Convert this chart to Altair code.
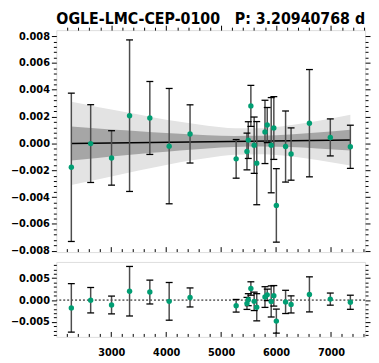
import altair as alt
import pandas as pd

# ---------------- data ----------------
title_left = "OGLE-LMC-CEP-0100"
title_right = "P: 3.20940768 d"

obs_x = [2273, 2625, 3005, 3333, 3702, 4054, 4434, 5273, 5470, 5494, 5541, 5601,
         5648, 5798, 5839, 5911, 5959, 6005, 6173, 6273, 6607, 6987, 7352]
obs_y = [-0.00178, -0.00001, -0.00108, 0.00207, 0.00190, -0.00020, 0.00071,
         -0.00115, -0.00060, 0.00025, 0.00280, -0.00013, -0.00147, 0.00086,
         0.00137, -0.00013, 0.00115, -0.00462, -0.00023, -0.00079, 0.00151,
         0.00045, -0.00025]
obs_err = [0.00553, 0.00290, 0.00203, 0.00565, 0.00272, 0.00430, 0.00217,
           0.00144, 0.00137, 0.00137, 0.00153, 0.00210, 0.00310, 0.00236,
           0.00131, 0.00355, 0.00234, 0.00274, 0.00265, 0.00195, 0.00400,
           0.00138, 0.00161]
resid = [-0.00178, -0.00003, -0.00112, 0.00202, 0.00183, -0.00029, 0.00060,
         -0.00130, -0.00076, 0.00009, 0.00264, -0.00029, -0.00164, 0.00069,
         0.00119, -0.00031, 0.00097, -0.00480, -0.00042, -0.00099, 0.00130,
         0.00022, -0.00050]

fit_x = [2273, 7352]
fit_y = [0.00000, 0.00025]

band_x = [2273, 2750, 3250, 3750, 4250, 4750, 5250, 5750, 6250, 6750, 7352]
dark_lo = [-0.00127, -0.00108, -0.00088, -0.00070, -0.00052, -0.00037,
           -0.00026, -0.00023, -0.00027, -0.00037, -0.00052]
dark_hi = [0.00127, 0.00112, 0.00098, 0.00084, 0.00072, 0.00061,
           0.00056, 0.00057, 0.00067, 0.00081, 0.00102]
light_lo = [-0.00310, -0.00268, -0.00224, -0.00182, -0.00141, -0.00108,
            -0.00084, -0.00080, -0.00095, -0.00123, -0.00164]
light_hi = [0.00310, 0.00272, 0.00234, 0.00196, 0.00161, 0.00132,
            0.00114, 0.00114, 0.00135, 0.00167, 0.00214]

x_major = [3000, 4000, 5000, 6000, 7000]
x_minor = [2200, 2400, 2600, 2800, 3200, 3400, 3600, 3800, 4200, 4400, 4600,
           4800, 5200, 5400, 5600, 5800, 6200, 6400, 6600, 6800, 7200, 7400, 7600]
y1_ticks = [round(-0.008 + 0.0004 * i, 4) for i in range(41)]
y2_ticks = [round(-0.008 + 0.001 * i, 3) for i in range(17)]

# ---------------- tables ----------------
obs = pd.DataFrame({"x": obs_x, "y": obs_y, "err": obs_err, "r": resid})
band = pd.DataFrame({"bx": band_x, "dlo": dark_lo, "dhi": dark_hi,
                     "llo": light_lo, "lhi": light_hi})
fit = pd.DataFrame({"fx": fit_x, "fy": fit_y})
xmaj = pd.DataFrame({"v": x_major})
xmin_ = pd.DataFrame({"v": x_minor})
zero = pd.DataFrame({"z": [0.0]})
tl = pd.DataFrame({"t": [title_left]})
tr = pd.DataFrame({"t": [title_right]})

W, H1, H2 = 313, 225, 76
FONT = "DejaVu Sans Condensed, DejaVu Sans"
GREEN = "#009e73"

xscale = alt.Scale(domain=[2000, 7620], nice=False, zero=False)
y1scale = alt.Scale(domain=[-0.0081, 0.00845], nice=False, zero=False)
y2scale = alt.Scale(domain=[-0.0084, 0.0087], nice=False, zero=False)

t1 = "abs(datum.value*500 - round(datum.value*500)) < 0.001"
t2 = "abs(datum.value*200 - round(datum.value*200)) < 0.001"
tx = "datum.value % 1000 == 0"


def yaxis(values, test, orient, labels):
    return alt.Axis(values=values, orient=orient, labels=labels, format=".3f",
                    labelExpr=f"{test} ? datum.label : ''",
                    tickSize={"condition": {"test": test, "value": 5}, "value": 3},
                    tickColor="black", tickWidth=1, domain=False, grid=False,
                    title=None, labelOverlap=False, labelPadding=2,
                    labelFont=FONT, labelFontWeight="bold", labelFontSize=11,
                    labelColor="black")


def xnone(field):
    return alt.X(field, scale=xscale, axis=None)


def errors(yscale, val, hi_axis=None):
    base = alt.Chart(obs).transform_calculate(
        lo=f"datum.{val} - datum.err", hi=f"datum.{val} + datum.err")
    rule = base.mark_rule(color="#4d4d4d", strokeWidth=1.5).encode(
        x=xnone("x:Q"),
        y=alt.Y("lo:Q", scale=yscale, axis=hi_axis),
        y2="hi:Q")
    cap_lo = base.mark_tick(orient="horizontal", size=7, thickness=1.3,
                            color="black", opacity=1).encode(
        x=xnone("x:Q"), y=alt.Y("lo:Q", scale=yscale, axis=None))
    cap_hi = base.mark_tick(orient="horizontal", size=7, thickness=1.3,
                            color="black", opacity=1).encode(
        x=xnone("x:Q"), y=alt.Y("hi:Q", scale=yscale, axis=None))
    return [rule, cap_lo, cap_hi]


def inner_xticks(H):
    maj = alt.Chart(xmaj).mark_rule(color="black", strokeWidth=1).encode(
        x=xnone("v:Q"), y=alt.value(H), y2=alt.value(H - 5))
    mnr = alt.Chart(xmin_).mark_rule(color="black", strokeWidth=1).encode(
        x=xnone("v:Q"), y=alt.value(H), y2=alt.value(H - 3))
    return [maj, mnr]


# ---------------- top panel ----------------
light = alt.Chart(band).mark_area(color="#e3e3e3", interpolate="monotone").encode(
    x=xnone("bx:Q"), y=alt.Y("llo:Q", scale=y1scale, axis=None), y2="lhi:Q")
dark = alt.Chart(band).mark_area(color="#a6a6a6", interpolate="monotone").encode(
    x=xnone("bx:Q"), y=alt.Y("dlo:Q", scale=y1scale, axis=None), y2="dhi:Q")
fitline = alt.Chart(fit).mark_line(color="black", strokeWidth=1.5).encode(
    x=xnone("fx:Q"), y=alt.Y("fy:Q", scale=y1scale, axis=None))
pts1 = alt.Chart(obs).mark_circle(color=GREEN, opacity=1, size=30).encode(
    x=alt.X("x:Q", scale=xscale,
            axis=alt.Axis(orient="top", values=x_major + x_minor, labels=False,
                          tickSize={"condition": {"test": tx, "value": 5}, "value": 3},
                          tickColor="black", domain=False, grid=False, title=None)),
    y=alt.Y("y:Q", scale=y1scale, axis=yaxis(y1_ticks, t1, "left", True)))
txt_l = alt.Chart(tl).mark_text(align="left", baseline="alphabetic", font=FONT,
                                fontWeight="bold", fontSize=16, color="black").encode(
    text="t:N", x=alt.value(0), y=alt.value(-6))
txt_r = alt.Chart(tr).mark_text(align="right", baseline="alphabetic", font=FONT,
                                fontWeight="bold", fontSize=16, color="black").encode(
    text="t:N", x=alt.value(W), y=alt.value(-6))

top = alt.layer(
    light, dark, fitline,
    *errors(y1scale, "y", yaxis(y1_ticks, t1, "right", False)),
    pts1, *inner_xticks(H1), txt_l, txt_r
).resolve_axis(y="independent", x="independent").properties(width=W, height=H1)

# ---------------- bottom panel ----------------
zline = alt.Chart(zero).mark_rule(color="black", strokeWidth=1, strokeDash=[2, 2]).encode(
    y=alt.Y("z:Q", scale=y2scale, axis=None))
pts2 = alt.Chart(obs).mark_circle(color=GREEN, opacity=1, size=30).encode(
    x=alt.X("x:Q", scale=xscale,
            axis=alt.Axis(orient="bottom", values=x_major, ticks=False, domain=False,
                          grid=False, title=None, format="d", labelPadding=10,
                          labelFont=FONT, labelFontWeight="bold", labelFontSize=11,
                          labelColor="black", labelFlush=False)),
    y=alt.Y("r:Q", scale=y2scale, axis=yaxis(y2_ticks, t2, "left", True)))

bottom = alt.layer(
    zline,
    *errors(y2scale, "r", yaxis(y2_ticks, t2, "right", False)),
    pts2, *inner_xticks(H2)
).resolve_axis(y="independent", x="independent").properties(width=W, height=H2)

chart = alt.vconcat(top, bottom, spacing=1).properties(
    padding={"left": 1, "top": 0, "right": 0, "bottom": 0}
).configure_view(stroke="black", strokeWidth=1).configure(background="white")

chart.save("out.html", embed_options={"renderer": "svg", "actions": False})
